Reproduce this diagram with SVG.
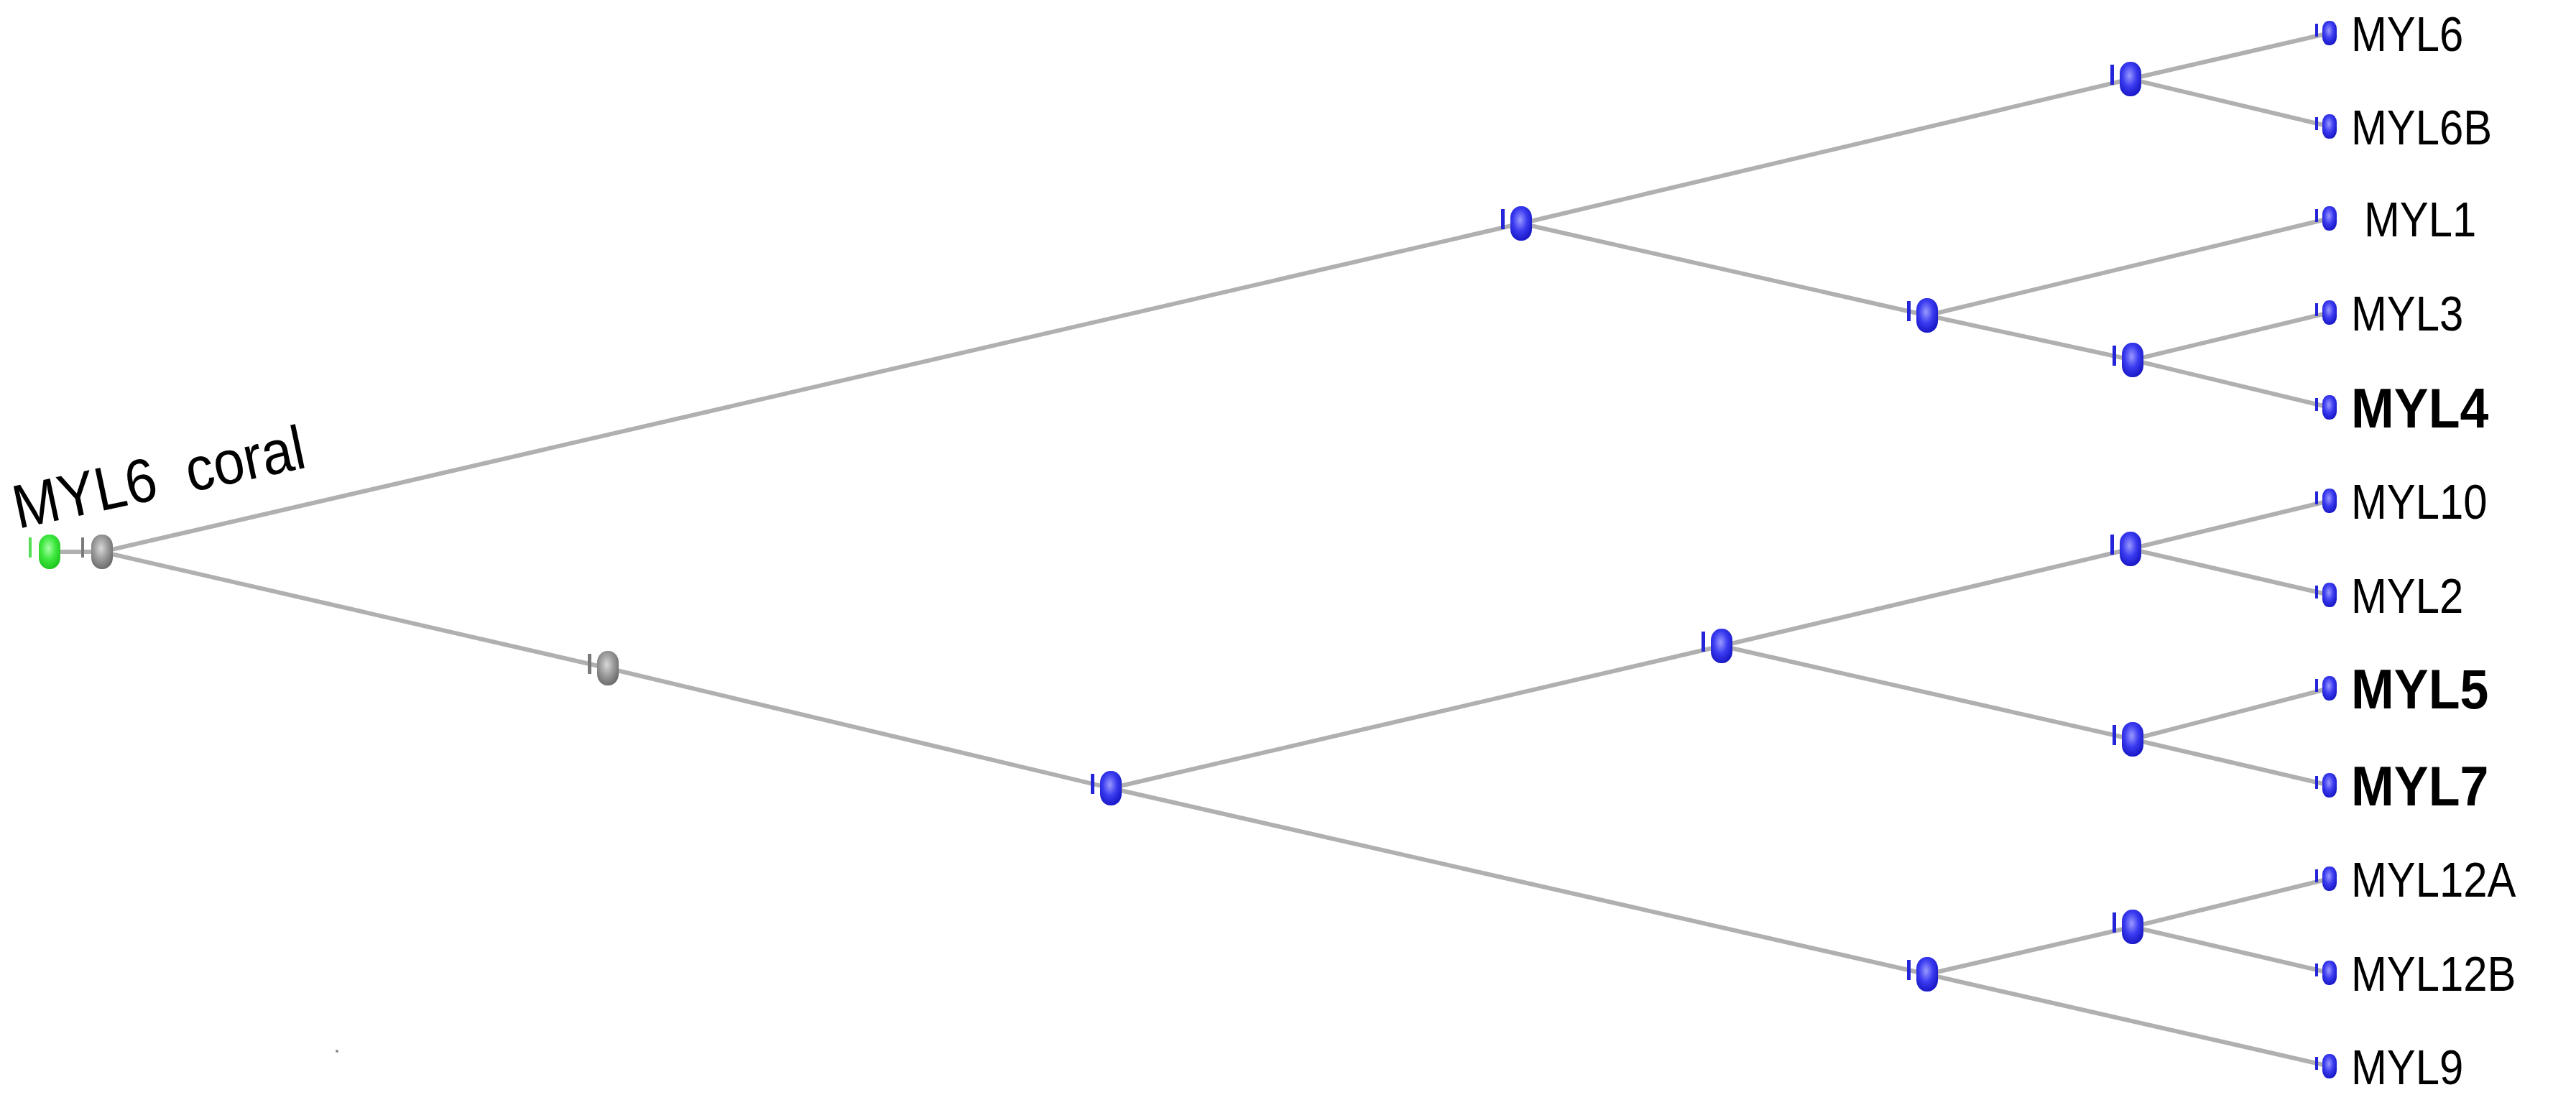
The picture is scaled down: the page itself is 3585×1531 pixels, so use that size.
<svg xmlns="http://www.w3.org/2000/svg" width="3585" height="1531" viewBox="0 0 3585 1531">
<style>
.edge{stroke:#b0b0b0;stroke-width:6;fill:none;stroke-linecap:round}
.lbl{font-family:"Liberation Sans",Arial,sans-serif;font-size:68px;fill:#000}
.bold{font-weight:bold;font-size:78px}
.tb{fill:#2424d8}
.tg{fill:#7a7a7a}
.tgr{fill:#55dd55}
</style>
<defs>
<radialGradient id="gb" cx="0.45" cy="0.4" r="0.6">
<stop offset="0" stop-color="#9a9aff"/>
<stop offset="0.55" stop-color="#3a3af0"/>
<stop offset="1" stop-color="#1a1ac8"/>
</radialGradient>
<radialGradient id="gg" cx="0.45" cy="0.4" r="0.6">
<stop offset="0" stop-color="#d8d8d8"/>
<stop offset="0.55" stop-color="#9a9a9a"/>
<stop offset="1" stop-color="#6e6e6e"/>
</radialGradient>
<radialGradient id="ggr" cx="0.45" cy="0.4" r="0.6">
<stop offset="0" stop-color="#a8ffa8"/>
<stop offset="0.55" stop-color="#3ee83e"/>
<stop offset="1" stop-color="#22c822"/>
</radialGradient>
<g id="inner">
<rect class="tb" x="-28" y="-20" width="5" height="28"/>
<rect x="-15" y="-24" width="30" height="48" rx="14" ry="16" fill="url(#gb)"/>
</g>
<g id="leaf">
<rect class="tb" x="-20" y="-13" width="4" height="18"/>
<rect x="-10" y="-17" width="20" height="34" rx="9" ry="11" fill="url(#gb)"/>
</g>
</defs>

<g id="connectors">
<line class="edge" x1="69" y1="768" x2="142" y2="768"/>
<line class="edge" x1="142" y1="768" x2="2117" y2="311"/>
<line class="edge" x1="142" y1="768" x2="846" y2="930"/>
<line class="edge" x1="846" y1="930" x2="1546" y2="1097"/>
<line class="edge" x1="2117" y1="311" x2="2965" y2="110"/>
<line class="edge" x1="2117" y1="311" x2="2682" y2="439"/>
<line class="edge" x1="2965" y1="110" x2="3242" y2="46"/>
<line class="edge" x1="2965" y1="110" x2="3242" y2="176"/>
<line class="edge" x1="2682" y1="439" x2="3242" y2="304"/>
<line class="edge" x1="2682" y1="439" x2="2968" y2="501"/>
<line class="edge" x1="2968" y1="501" x2="3242" y2="435"/>
<line class="edge" x1="2968" y1="501" x2="3242" y2="567"/>
<line class="edge" x1="1546" y1="1097" x2="2396" y2="899"/>
<line class="edge" x1="1546" y1="1097" x2="2682" y2="1356"/>
<line class="edge" x1="2396" y1="899" x2="2965" y2="764"/>
<line class="edge" x1="2396" y1="899" x2="2968" y2="1029"/>
<line class="edge" x1="2965" y1="764" x2="3242" y2="697"/>
<line class="edge" x1="2965" y1="764" x2="3242" y2="828"/>
<line class="edge" x1="2968" y1="1029" x2="3242" y2="958"/>
<line class="edge" x1="2968" y1="1029" x2="3242" y2="1093"/>
<line class="edge" x1="2682" y1="1356" x2="2968" y2="1290"/>
<line class="edge" x1="2682" y1="1356" x2="3242" y2="1484"/>
<line class="edge" x1="2968" y1="1290" x2="3242" y2="1223"/>
<line class="edge" x1="2968" y1="1290" x2="3242" y2="1354"/>
</g>

<g id="n-coral" transform="translate(69,768)">
<rect class="tgr" x="-29" y="-20" width="4" height="28"/>
<rect x="-15" y="-24" width="30" height="48" rx="14" ry="16" fill="url(#ggr)"/>
<text class="lbl" transform="translate(-44,-32) rotate(-12) scale(0.9,1)" style="font-size:86px" xml:space="preserve">MYL6  coral</text>
</g>
<g id="n-root" transform="translate(142,768)">
<rect class="tg" x="-29" y="-20" width="4" height="28"/>
<rect x="-15" y="-24" width="30" height="48" rx="14" ry="16" fill="url(#gg)"/>
</g>
<g id="n-mid" transform="translate(846,930)">
<rect class="tg" x="-28" y="-20" width="5" height="28"/>
<rect x="-15" y="-24" width="30" height="48" rx="14" ry="16" fill="url(#gg)"/>
</g>
<g id="n-A" transform="translate(2117,311)"><use href="#inner"/></g>
<g id="n-B" transform="translate(1546,1097)"><use href="#inner"/></g>
<g id="n-C" transform="translate(2682,439)"><use href="#inner"/></g>
<g id="n-D" transform="translate(2968,501)"><use href="#inner"/></g>
<g id="n-E" transform="translate(2396,899)"><use href="#inner"/></g>
<g id="n-F" transform="translate(2682,1356)"><use href="#inner"/></g>
<g id="n-G" transform="translate(2965,764)"><use href="#inner"/></g>
<g id="n-H" transform="translate(2968,1029)"><use href="#inner"/></g>
<g id="n-I" transform="translate(2968,1290)"><use href="#inner"/></g>
<g id="n-P6" transform="translate(2965,110)"><use href="#inner"/></g>

<g id="leaf-MYL6" transform="translate(3242,46)"><use href="#leaf"/><text class="lbl" transform="translate(30,25) scale(0.88,1)">MYL6</text></g>
<g id="leaf-MYL6B" transform="translate(3242,176)"><use href="#leaf"/><text class="lbl" transform="translate(30,25) scale(0.88,1)">MYL6B</text></g>
<g id="leaf-MYL1" transform="translate(3242,304)"><use href="#leaf"/><text class="lbl" transform="translate(48,25) scale(0.88,1)">MYL1</text></g>
<g id="leaf-MYL3" transform="translate(3242,435)"><use href="#leaf"/><text class="lbl" transform="translate(30,25) scale(0.88,1)">MYL3</text></g>
<g id="leaf-MYL4" transform="translate(3242,567)"><use href="#leaf"/><text class="lbl bold" transform="translate(30,28) scale(0.92,1)">MYL4</text></g>
<g id="leaf-MYL10" transform="translate(3242,697)"><use href="#leaf"/><text class="lbl" transform="translate(30,25) scale(0.88,1)">MYL10</text></g>
<g id="leaf-MYL2" transform="translate(3242,828)"><use href="#leaf"/><text class="lbl" transform="translate(30,25) scale(0.88,1)">MYL2</text></g>
<g id="leaf-MYL5" transform="translate(3242,958)"><use href="#leaf"/><text class="lbl bold" transform="translate(30,28) scale(0.92,1)">MYL5</text></g>
<g id="leaf-MYL7" transform="translate(3242,1093)"><use href="#leaf"/><text class="lbl bold" transform="translate(30,28) scale(0.92,1)">MYL7</text></g>
<g id="leaf-MYL12A" transform="translate(3242,1223)"><use href="#leaf"/><text class="lbl" transform="translate(30,25) scale(0.88,1)">MYL12A</text></g>
<g id="leaf-MYL12B" transform="translate(3242,1354)"><use href="#leaf"/><text class="lbl" transform="translate(30,25) scale(0.88,1)">MYL12B</text></g>
<g id="leaf-MYL9" transform="translate(3242,1484)"><use href="#leaf"/><text class="lbl" transform="translate(30,25) scale(0.88,1)">MYL9</text></g>

<circle cx="469" cy="1463" r="2" fill="#888"/>
</svg>
